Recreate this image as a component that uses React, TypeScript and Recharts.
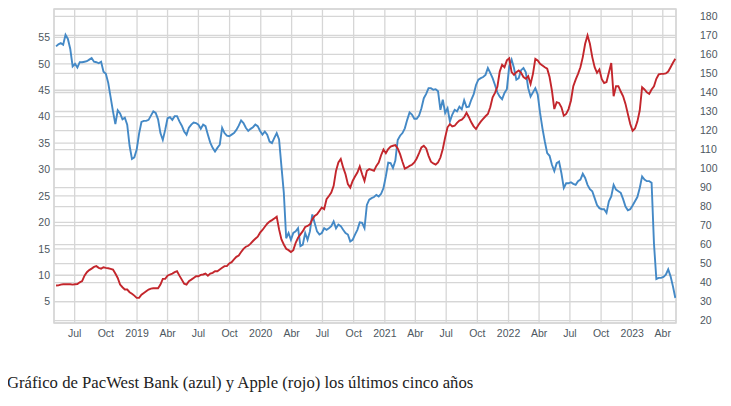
import React from "react"
import {
  LineChart,
  Line,
  XAxis,
  YAxis,
  CartesianGrid,
  ReferenceLine,
  ReferenceArea,
} from "recharts"

// weekly closes, first week starts 2018-05-07
// PacWest Bank (left axis)
const pacwest = [
  // 2018
  53.3, 53.7, 53.9, 53.6, 55.5, 54.7, 52.8, 49.5, 50.0, 49.3, 50.3, 50.3, 50.4, 50.5, 50.8, 51.1, 50.4, 50.3,
  50.1, 50.4, 48.5, 48.1, 46.4, 43.7, 41.0, 38.6, 41.2, 40.6, 39.5, 39.8, 38.5, 34.5, 32.0, 32.3, 33.8,
  // 2019
  36.8, 39.0, 39.2, 39.2, 39.4, 40.2, 41.0, 40.7, 39.5, 36.9, 35.6, 37.5, 39.7, 39.9, 39.4, 40.1, 40.1, 39.1,
  38.3, 37.2, 36.6, 37.9, 38.5, 38.9, 38.8, 38.5, 37.7, 38.5, 38.2, 36.6, 35.1, 34.1, 33.4, 34.1, 34.7, 37.9,
  36.9, 36.4, 36.3, 36.6, 36.9, 37.5, 38.3, 39.3, 38.8, 37.9, 37.3, 37.7, 38.0, 38.5, 38.2, 37.3,
  // 2020
  36.6, 37.2, 36.6, 35.3, 35.0, 36.0, 36.9, 35.7, 30.6, 25.6, 17.0, 18.0, 16.7, 18.0, 18.3, 18.9, 15.5, 15.8,
  18.0, 16.7, 18.3, 21.5, 19.9, 18.3, 17.7, 18.0, 18.9, 18.6, 18.9, 19.3, 20.2, 18.9, 19.6, 19.3, 18.6, 18.0,
  17.7, 16.4, 16.7, 17.7, 18.6, 20.0, 19.9, 18.9, 23.3, 24.3, 24.6, 24.8, 25.2, 24.9, 25.4, 26.5,
  // 2021
  28.7, 31.3, 31.2, 30.3, 31.7, 35.6, 36.4, 36.9, 37.8, 39.4, 40.8, 40.4, 39.6, 39.6, 40.2, 41.6, 43.5, 44.3,
  45.4, 45.4, 45.1, 45.2, 44.8, 41.3, 43.2, 40.7, 41.6, 39.1, 40.4, 41.3, 41.0, 41.9, 41.4, 43.1, 41.8, 41.9,
  43.2, 44.2, 46.0, 47.0, 47.3, 47.5, 47.9, 49.2, 48.3, 47.3, 46.0, 44.6, 43.8, 43.3, 44.5, 45.2,
  // 2022
  49.5, 50.8, 49.2, 47.0, 47.3, 48.8, 49.2, 48.4, 45.4, 43.8, 44.6, 45.4, 44.2, 40.7, 37.8, 35.3, 33.1, 32.6,
  30.9, 29.7, 31.2, 31.5, 29.3, 26.5, 27.4, 27.4, 27.6, 27.3, 27.1, 27.8, 28.1, 29.2, 28.4, 27.1, 26.3, 25.9,
  24.6, 23.3, 22.7, 22.5, 22.5, 21.8, 24.0, 24.9, 27.1, 26.2, 25.9, 25.6, 24.4, 23.0, 22.3, 22.5,
  // 2023
  23.2, 24.0, 24.8, 26.5, 28.7, 28.1, 27.8, 27.8, 27.5, 16.0, 9.3, 9.5, 9.5, 9.7, 10.1, 11.1, 9.8, 7.9, 5.7,
]

// Apple (right axis)
const apple = [
  // 2018
  38.5, 38.6, 39.0, 39.2, 39.2, 39.2, 39.2, 39.0, 39.2, 39.3, 40.2, 40.8, 43.7, 45.5, 46.6, 47.4, 48.3, 48.7,
  47.8, 47.4, 48.1, 47.8, 47.6, 47.3, 46.9, 44.8, 42.5, 39.0, 37.6, 36.4, 36.4, 35.0, 34.2, 33.2, 32.0,
  // 2019
  32.0, 33.7, 34.6, 35.5, 36.4, 36.9, 37.1, 37.1, 37.1, 39.0, 42.0, 42.0, 43.7, 44.3, 44.8, 45.5, 46.0, 43.7,
  41.6, 39.5, 39.0, 40.8, 41.6, 42.5, 43.4, 43.4, 44.1, 44.3, 44.8, 43.7, 44.8, 45.2, 46.0, 46.0, 46.9, 47.8,
  48.7, 48.7, 50.1, 50.8, 52.2, 53.6, 54.3, 56.1, 57.8, 58.9, 59.4, 60.5, 61.9, 63.1, 64.2, 66.3,
  // 2020
  67.7, 69.4, 71.0, 72.1, 72.9, 73.8, 74.7, 68.0, 62.7, 60.1, 57.8, 57.1, 56.1, 57.1, 61.0, 63.6, 65.4, 67.1,
  69.3, 69.8, 70.7, 73.3, 75.1, 75.9, 77.7, 79.5, 78.6, 83.9, 85.6, 87.4, 90.9, 98.8, 103.2, 105.0, 100.6, 97.0,
  91.8, 90.0, 93.5, 95.8, 97.9, 101.1, 97.0, 93.5, 98.8, 99.7, 99.3, 98.8, 101.4, 103.2, 107.0, 110.0,
  // 2021
  108.1, 110.3, 111.6, 112.0, 112.3, 110.6, 107.6, 103.6, 100.0, 100.6, 101.4, 102.0, 103.2, 105.3, 108.1,
  111.1, 112.0, 110.6, 106.7, 103.6, 102.7, 102.1, 103.2, 105.8, 110.3, 116.4, 121.7, 123.4, 122.2, 122.5,
  124.0, 125.2, 125.7, 127.0, 129.3, 127.0, 124.3, 122.2, 120.8, 122.9, 124.7, 126.1, 127.5, 128.7, 132.2,
  137.5, 139.8, 143.0, 151.0, 154.6, 153.3, 156.9,
  // 2022
  158.0, 150.7, 149.3, 150.7, 151.6, 150.3, 148.1, 147.2, 148.6, 144.5, 149.8, 157.7, 156.9, 155.1, 154.2,
  153.3, 152.5, 148.1, 141.0, 131.3, 134.9, 134.5, 132.2, 127.8, 128.7, 131.3, 135.7, 143.3, 146.8, 149.8,
  153.3, 158.6, 165.6, 170.0, 165.6, 158.6, 153.3, 150.3, 152.1, 147.0, 145.0, 145.5, 150.5, 155.5, 138.0,
  143.3, 143.3, 140.5, 138.0, 134.0, 128.7, 123.4,
  // 2023
  119.9, 121.1, 124.7, 130.5, 142.8, 141.6, 140.1, 139.3, 141.6, 143.3, 147.2, 149.5, 149.8, 149.8, 150.0,
  151.0, 153.3, 155.6, 157.7,
]

const tickDates = [
  "2018-07-01", "2018-10-01", "2019-01-01", "2019-04-01", "2019-07-01", "2019-10-01",
  "2020-01-01", "2020-04-01", "2020-07-01", "2020-10-01", "2021-01-01", "2021-04-01",
  "2021-07-01", "2021-10-01", "2022-01-01", "2022-04-01", "2022-07-01", "2022-10-01",
  "2023-01-01", "2023-04-01",
]
const tickLabels = [
  "Jul", "Oct", "2019", "Abr", "Jul", "Oct",
  "2020", "Abr", "Jul", "Oct", "2021", "Abr",
  "Jul", "Oct", "2022", "Abr", "Jul", "Oct",
  "2023", "Abr",
]

const leftTicks = [5, 10, 15, 20, 25, 30, 35, 40, 45, 50, 55]
const rightTicks = [20, 30, 40, 50, 60, 70, 80, 90, 100, 110, 120, 130, 140, 150, 160, 170, 180]

const START = Date.UTC(2018, 4, 7)
const WEEK = 7 * 24 * 3600 * 1000
const X_MIN = Date.UTC(2018, 4, 1)
const X_MAX = Date.UTC(2023, 4, 10)
const LEFT_DOMAIN = [0.97, 60.37]
const RIGHT_DOMAIN = [18.8, 183.9]

const data = pacwest.map((v, i) => ({
  t: START + i * WEEK,
  pacwest: v,
  apple: apple[i],
}))

const xTicks = tickDates.map((d) => Date.parse(d + "T00:00:00Z"))
const labelFor = (t: number) => {
  const i = xTicks.indexOf(t)
  return i >= 0 ? tickLabels[i] : ""
}

const GRID = "#d6d6d6"
const tickStyle = { fill: "#4d5760", fontSize: 10.5, fontFamily: "'Liberation Sans', Arial, sans-serif" }

export default function App() {
  return (
    <div style={{ position: "relative", width: 731, height: 406, margin: -8, background: "#fff" }}>
      <LineChart width={731} height={345} data={data} margin={{ top: 9, right: 10, bottom: 0, left: 10 }}>
        <CartesianGrid stroke={GRID} strokeWidth={1.3} />
        {rightTicks.map((v) => (
          <ReferenceLine key={v} yAxisId="right" y={v} stroke={GRID} strokeWidth={1.3} />
        ))}
        <ReferenceArea
          x1={X_MIN}
          x2={X_MAX}
          y1={LEFT_DOMAIN[0]}
          y2={LEFT_DOMAIN[1]}
          fill="none"
          stroke={GRID}
          strokeWidth={1.5}
        />
        <XAxis
          dataKey="t"
          type="number"
          domain={[X_MIN, X_MAX]}
          ticks={xTicks}
          interval={0}
          tickFormatter={labelFor}
          tickLine={false}
          axisLine={false}
          tickSize={0}
          tickMargin={7}
          height={22}
          tick={tickStyle}
          allowDataOverflow
        />
        <YAxis
          domain={LEFT_DOMAIN}
          ticks={leftTicks}
          interval={0}
          tickLine={false}
          axisLine={false}
          tickSize={0}
          tickMargin={4}
          width={44}
          tick={tickStyle}
          allowDataOverflow
        />
        <YAxis
          yAxisId="right"
          orientation="right"
          domain={RIGHT_DOMAIN}
          ticks={rightTicks}
          interval={0}
          tickLine={false}
          axisLine={false}
          tickSize={0}
          tickMargin={24}
          width={45}
          tick={{ ...tickStyle, textAnchor: "start" }}
          allowDataOverflow
        />
        <Line
          type="linear"
          dataKey="pacwest"
          stroke="#4489c6"
          strokeWidth={1.9}
          dot={false}
          isAnimationActive={false}
        />
        <Line
          type="linear"
          dataKey="apple"
          yAxisId="right"
          stroke="#c3262c"
          strokeWidth={1.9}
          dot={false}
          isAnimationActive={false}
        />
      </LineChart>
      <div
        style={{
          position: "absolute",
          left: 7,
          top: 373,
          fontFamily: "'Liberation Serif', 'Times New Roman', serif",
          fontSize: 16.7,
          lineHeight: "19px",
          color: "#222",
          whiteSpace: "nowrap",
        }}
      >
        Gráfico de PacWest Bank (azul) y Apple (rojo) los últimos cinco años
      </div>
    </div>
  )
}
